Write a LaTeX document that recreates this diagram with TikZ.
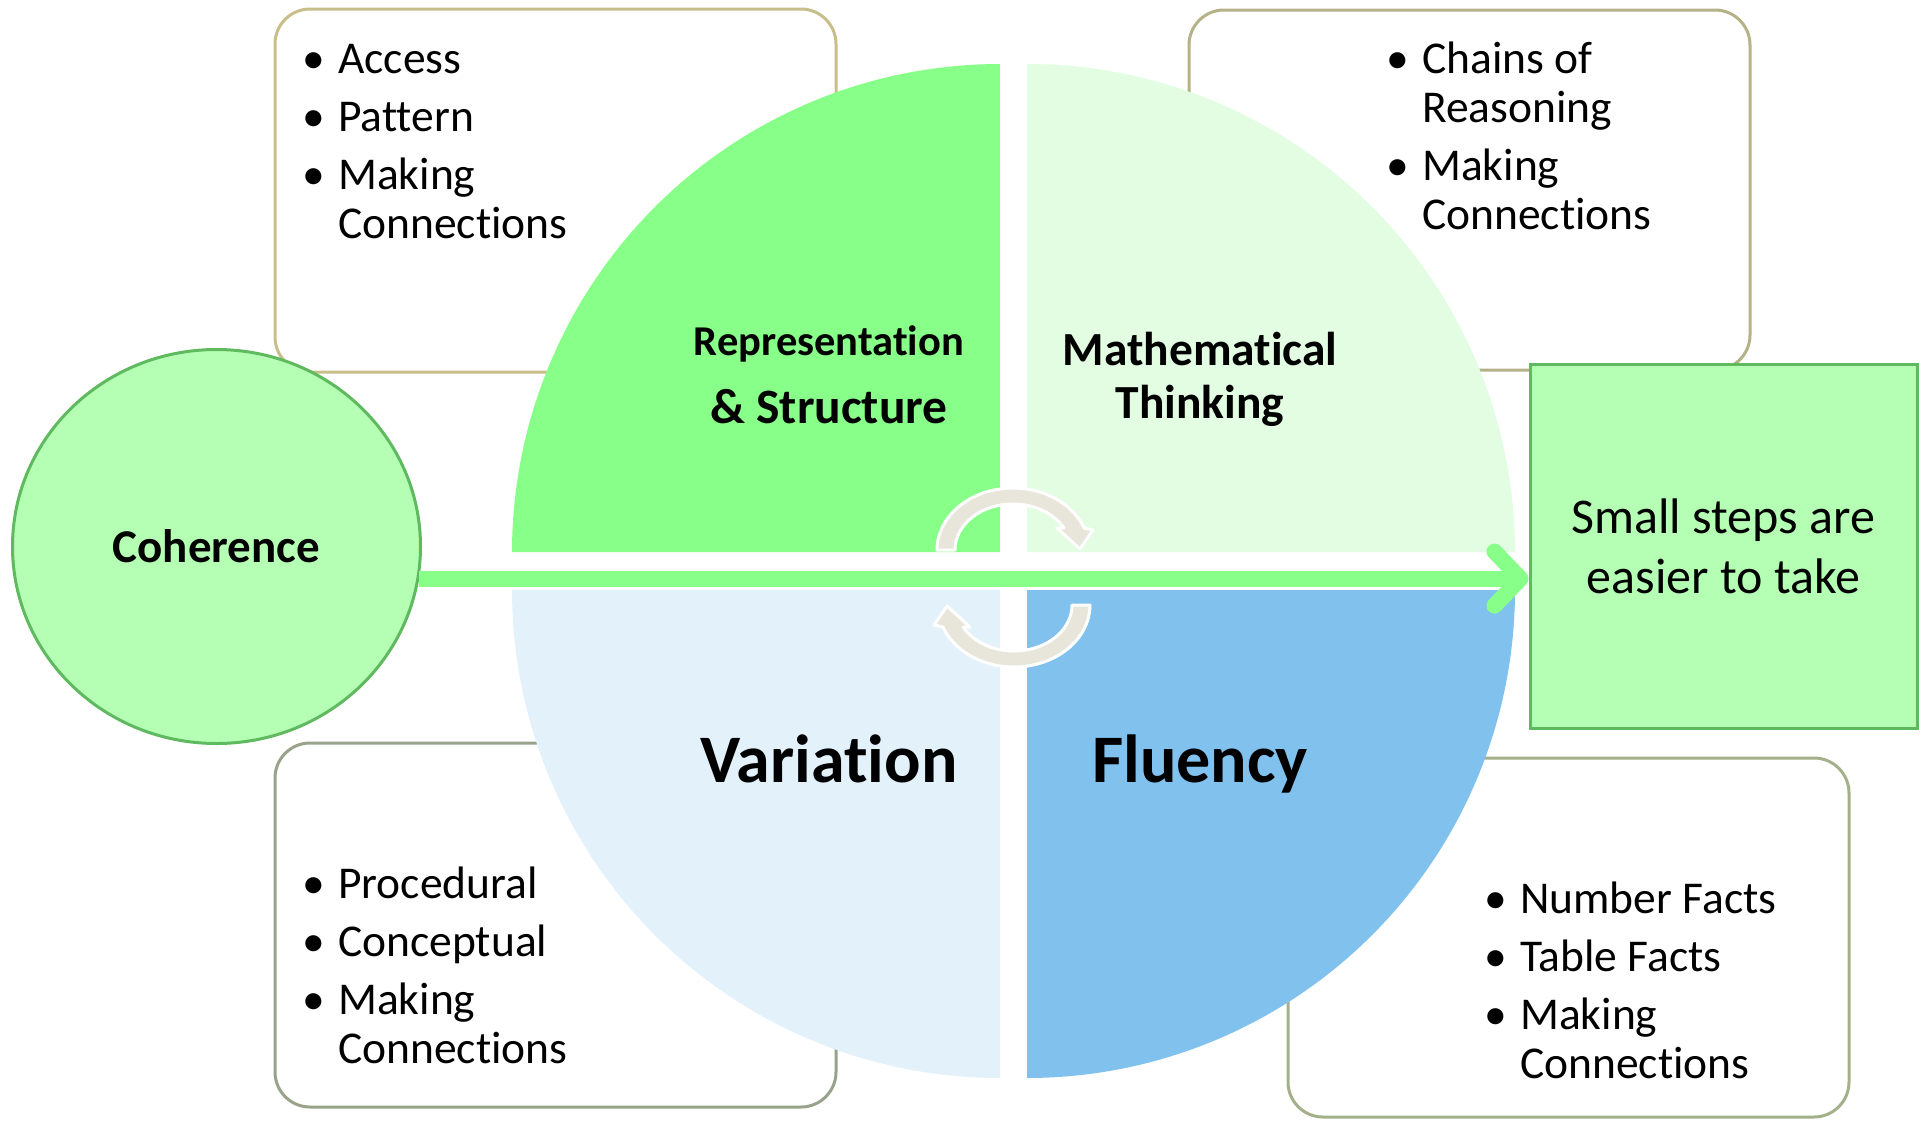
\documentclass[tikz,border=0pt]{standalone}
\usepackage{fontspec}
\setmainfont{Carlito}[Ligatures={NoCommon,NoContextual}]
\usetikzlibrary{shapes.geometric,arrows.meta}

\definecolor{quadRS}{HTML}{88FF88}
\definecolor{quadMT}{HTML}{E3FDE3}
\definecolor{quadVar}{HTML}{E3F1FB}
\definecolor{quadFl}{HTML}{80C1EE}
\definecolor{mintFill}{HTML}{B4FFB4}
\definecolor{mintLine}{HTML}{5FBA5F}
\definecolor{cycFill}{HTML}{E8E6DA}
\definecolor{edgeTan}{HTML}{C8BE8A}
\definecolor{edgeOlive}{HTML}{B4B286}
\definecolor{edgeSage}{HTML}{98A38A}
\definecolor{edgeMoss}{HTML}{A4B08A}

% bullet cell of a list
\newcommand\bul{\makebox[48pt][c]{\textbullet}}

% circular arrow around the centre of the wheel
\newcommand\cyclearrow{%
  \filldraw[cycarrow] (955,550) -- (937,550)
    -- plot[domain=180:20.8, samples=70] ({1013+76*cos(\x)},{550-62*sin(\x)})
    -- (1093,530) -- (1080,549) -- (1057,528)
    -- plot[domain=28.6:180, samples=70] ({1013+58*cos(\x)},{550-46*sin(\x)})
    -- cycle;}

\tikzset{
  listbox/.style={rectangle, rounded corners=35pt, line width=3pt, fill=white,
    inner sep=0pt},
  listtext/.style={anchor=base west, inner sep=0pt,
    font=\fontsize{45.5}{49}\selectfont},
  quadlabel/.style={anchor=base, inner sep=0pt},
  cycarrow/.style={fill=cycFill, draw=white, line width=3pt, line join=round},
  mintshape/.style={fill=mintFill, draw=mintLine, line width=3pt, inner sep=0pt},
  flowarrow/.style={draw=quadRS, line width=16pt,
    -{Straight Barb[round, length=26pt, width=54pt]}},
}

\begin{document}
\begin{tikzpicture}[x=1pt,y=-1pt]
\useasboundingbox (0,0) rectangle (1925,1120);
\fill[white] (0,0) rectangle (1925,1120);

% ---- list boxes ----
\node[listbox, draw=edgeTan, minimum width=561pt, minimum height=363pt]
  (boxRS) at (555.5,190.5) {};
\node[listbox, draw=edgeOlive, minimum width=561pt, minimum height=360pt]
  (boxMT) at (1469.5,190) {};
\node[listbox, draw=edgeSage, minimum width=561pt, minimum height=364pt]
  (boxVar) at (555.5,925) {};
\node[listbox, draw=edgeMoss, minimum width=561pt, minimum height=359pt]
  (boxFl) at (1568.5,937.5) {};

\node[listtext] (listRS) at (290,73) {\begin{tabular}[t]{@{}l@{}l@{}}
  \bul & Access\\[9pt]
  \bul & Pattern\\[9pt]
  \bul & Making\\
       & Connections
\end{tabular}};
\node[listtext] (listMT) at (1374,73) {\begin{tabular}[t]{@{}l@{}l@{}}
  \bul & Chains of\\
       & Reasoning\\[9pt]
  \bul & Making\\
       & Connections
\end{tabular}};
\node[listtext] (listVar) at (290,898) {\begin{tabular}[t]{@{}l@{}l@{}}
  \bul & Procedural\\[9pt]
  \bul & Conceptual\\[9pt]
  \bul & Making\\
       & Connections
\end{tabular}};
\node[listtext] (listFl) at (1472,913) {\begin{tabular}[t]{@{}l@{}l@{}}
  \bul & Number Facts\\[9pt]
  \bul & Table Facts\\[9pt]
  \bul & Making\\
       & Connections
\end{tabular}};

% ---- the four quadrants ----
\fill[quadRS] (1000,552)
  -- plot[domain=180:90, samples=91] ({1000+488*cos(\x)},{552-488*sin(\x)}) -- cycle;
\fill[quadMT] (1027,552)
  -- plot[domain=90:0, samples=91] ({1027+488*cos(\x)},{552-488*sin(\x)}) -- cycle;
\fill[quadVar] (1000,590)
  -- plot[domain=180:270, samples=91] ({1000+488*cos(\x)},{590-488*sin(\x)}) -- cycle;
\fill[quadFl] (1027,590)
  -- plot[domain=270:360, samples=91] ({1027+488*cos(\x)},{590-488*sin(\x)}) -- cycle;

% ---- quadrant labels ----
\node[quadlabel, font=\bfseries] (lblRS) at (829,355) {%
  \renewcommand\arraystretch{0}%
  \begin{tabular}[t]{@{}c@{}}
    \fontsize{42.5}{42.5}\selectfont Representation\rule[-20pt]{0pt}{20pt}\\
    \fontsize{49.5}{49.5}\selectfont \& Structure\rule{0pt}{48pt}
  \end{tabular}};
\node[quadlabel, font=\bfseries\fontsize{47.5}{53}\selectfont] (lblMT) at (1200,365)
  {\begin{tabular}[t]{@{}c@{}}Mathematical\\Thinking\end{tabular}};
\node[quadlabel, font=\bfseries\fontsize{68}{80}\selectfont] (lblVar) at (829,782)
  {Variation};
\node[quadlabel, font=\bfseries\fontsize{68}{80}\selectfont] (lblFl) at (1200,782)
  {Fluency};

% ---- circular arrows ----
\cyclearrow
\begin{scope}[rotate around={180:(1013.5,577.5)}]
  \cyclearrow
\end{scope}

% ---- coherence and outcome ----
\node[mintshape, ellipse, minimum width=408pt, minimum height=394pt,
  font=\bfseries\fontsize{47}{56}\selectfont] (coh) at (216.5,546.5) {Coherence};
\node[mintshape, rectangle, minimum width=387pt, minimum height=364pt]
  (steps) at (1723.5,546) {};
\node[inner sep=0pt, font=\fontsize{50}{60}\selectfont] (stepsText) at (1723.5,551)
  {\begin{tabular}{@{}c@{}}Small steps are\\easier to take\end{tabular}};

\draw[flowarrow] (coh.-9) -- (coh.-9 -| steps.west);
\end{tikzpicture}
\end{document}
